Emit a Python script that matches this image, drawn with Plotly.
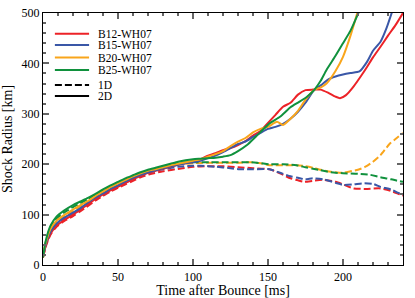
import plotly.graph_objects as go

# ---- data ----
series_names = ["B12-WH07", "B15-WH07", "B20-WH07", "B25-WH07"]
series_colors = ["#ec2227", "#3a57a7", "#f9a51b", "#10913d"]
style_names = ["1D", "2D"]

# 2D runs
t_2d_b12 = [0, 2, 5, 9, 14, 20, 25, 30, 35, 40, 45, 50, 55, 60, 65, 70, 75, 80, 85, 90, 95, 100, 105, 110, 115, 120, 125, 130, 135, 140, 145, 150, 155, 160, 165, 170, 175, 180, 185, 190, 195, 198, 202, 207, 212, 216, 220, 225, 230, 235, 241]
r_2d_b12 = [15, 40, 62, 78, 89, 100, 110, 120, 131, 140, 148, 155, 163, 170, 177, 183, 187, 191, 195, 199, 202, 205, 210, 217, 222, 228, 232, 238, 246, 257, 266, 282, 298, 314, 322, 338, 347, 348, 348, 342, 334, 331, 337, 354, 375, 393, 412, 433, 455, 476, 505]

t_2d_b15 = [0, 2, 5, 9, 14, 20, 25, 30, 35, 40, 45, 50, 55, 60, 65, 70, 75, 80, 85, 90, 95, 100, 105, 110, 115, 120, 125, 130, 135, 140, 145, 150, 155, 160, 165, 170, 175, 181, 186, 190, 195, 200, 205, 211, 216, 220, 225, 229, 233]
r_2d_b15 = [18, 43, 66, 82, 94, 104, 113, 124, 134, 142, 151, 158, 166, 173, 179, 184, 188, 192, 196, 199, 202, 204, 207, 212, 217, 224, 232, 240, 245, 254, 262, 270, 274, 280, 290, 304, 322, 348, 358, 368, 374, 378, 381, 384, 403, 425, 443, 470, 505]

t_2d_b20 = [0, 2, 5, 9, 14, 20, 25, 30, 35, 40, 45, 50, 55, 60, 65, 70, 75, 80, 85, 90, 95, 100, 105, 110, 115, 120, 125, 130, 135, 140, 145, 150, 156, 160, 165, 170, 175, 181, 185, 189, 195, 200, 205, 210]
r_2d_b20 = [20, 46, 72, 88, 99, 110, 119, 127, 137, 146, 155, 162, 169, 176, 182, 187, 190, 194, 198, 201, 204, 207, 210, 215, 220, 226, 236, 245, 252, 263, 270, 274, 284, 278, 290, 306, 328, 348, 352, 360, 385, 413, 455, 505]

t_2d_b25 = [0, 2, 5, 9, 14, 20, 25, 30, 35, 40, 45, 50, 55, 60, 65, 70, 75, 80, 85, 90, 95, 100, 105, 110, 115, 120, 125, 130, 136, 142, 151, 158, 165, 171, 176, 181, 185, 189, 195, 200, 205, 211]
r_2d_b25 = [15, 50, 78, 96, 108, 119, 126, 133, 141, 150, 158, 165, 172, 178, 184, 189, 193, 197, 201, 205, 208, 210, 211, 212, 213, 215, 218, 226, 238, 255, 281, 294, 313, 324, 334, 348, 365, 387, 415, 440, 465, 505]

# 1D runs
t_1d_b12 = [0, 2, 5, 9, 14, 20, 25, 30, 35, 40, 45, 50, 55, 60, 65, 71, 80, 93, 100, 110, 120, 130, 140, 151, 158, 165, 170, 174, 180, 187, 195, 200, 207, 215, 225, 232, 238, 240]
r_1d_b12 = [15, 38, 60, 76, 87, 97, 107, 117, 128, 137, 146, 153, 160, 167, 174, 180, 186, 192, 195, 196, 196, 194, 192, 190, 182, 172, 168, 165, 167, 169, 165, 160, 152, 151, 152, 147, 140, 138]

t_1d_b15 = [0, 2, 5, 9, 14, 20, 25, 30, 35, 40, 45, 50, 55, 60, 65, 75, 90, 100, 105, 115, 125, 131, 140, 151, 158, 165, 170, 175, 180, 187, 195, 200, 207, 213, 220, 225, 232, 237, 240]
r_1d_b15 = [18, 42, 64, 80, 92, 102, 111, 122, 132, 140, 149, 156, 164, 171, 177, 187, 195, 197, 197, 195, 192, 190, 190, 190, 183, 176, 173, 170, 172, 170, 163, 159, 160, 162, 161, 155, 150, 143, 140]

t_1d_b20 = [0, 2, 5, 9, 14, 20, 25, 30, 35, 40, 45, 50, 55, 60, 65, 75, 90, 100, 111, 120, 130, 138, 145, 151, 160, 169, 175, 180, 185, 192, 200, 205, 210, 215, 220, 225, 231, 235, 240]
r_1d_b20 = [20, 45, 70, 86, 97, 108, 117, 126, 136, 145, 153, 160, 167, 174, 180, 189, 199, 202, 203, 203, 203, 204, 202, 198, 198, 198, 196, 193, 189, 185, 183, 186, 189, 195, 205, 218, 240, 250, 262]

t_1d_b25 = [0, 2, 5, 9, 14, 20, 25, 30, 35, 40, 45, 50, 55, 60, 65, 75, 90, 100, 111, 120, 130, 138, 145, 151, 160, 169, 175, 180, 185, 192, 200, 210, 218, 225, 232, 238, 240]
r_1d_b25 = [15, 48, 75, 92, 104, 115, 123, 131, 139, 148, 156, 163, 170, 176, 182, 191, 202, 204, 204, 204, 204, 204, 202, 200, 200, 198, 194, 191, 188, 184, 182, 181, 179, 174, 170, 166, 165]

t_2d = [t_2d_b12, t_2d_b15, t_2d_b20, t_2d_b25]
r_2d = [r_2d_b12, r_2d_b15, r_2d_b20, r_2d_b25]
t_1d = [t_1d_b12, t_1d_b15, t_1d_b20, t_1d_b25]
r_1d = [r_1d_b12, r_1d_b15, r_1d_b20, r_1d_b25]

x_ticks = [0, 50, 100, 150, 200]
y_ticks = [0, 100, 200, 300, 400, 500]

FONT = "Liberation Serif"
DASH = "7px,3px"

fig = go.Figure()

for name, col, t, r in zip(series_names, series_colors, t_1d, r_1d):
    fig.add_trace(go.Scatter(x=t, y=r, mode="lines", showlegend=False, name=name + " 1D",
                             line=dict(color=col, width=2, dash=DASH, shape="spline", smoothing=0.6)))
for name, col, t, r in zip(series_names, series_colors, t_2d, r_2d):
    fig.add_trace(go.Scatter(x=t, y=r, mode="lines", showlegend=False, name=name + " 2D",
                             line=dict(color=col, width=2, shape="spline", smoothing=0.6)))

# ---- hand-placed legend (paper coordinates, compact spacing like the reference) ----
leg_x0, leg_x1, leg_tx = 0.033, 0.128, 0.148
leg_rows = [0.918, 0.873, 0.823, 0.774, 0.714, 0.671]
leg_labels = series_names + style_names
leg_colors = series_colors + ["black", "black"]
leg_dash = ["solid"] * 4 + [DASH, "solid"]
shapes = []
annotations = []
for yy, lab, col, ds in zip(leg_rows, leg_labels, leg_colors, leg_dash):
    shapes.append(dict(type="line", xref="paper", yref="paper", x0=leg_x0, x1=leg_x1, y0=yy, y1=yy,
                       line=dict(color=col, width=2, dash=ds)))
    annotations.append(dict(xref="paper", yref="paper", x=leg_tx, y=yy, xanchor="left", yanchor="middle",
                            text=lab, showarrow=False, font=dict(family=FONT, size=11.5, color="black")))

axis_common = dict(
    showline=True, linecolor="black", linewidth=1.2, mirror="allticks",
    ticks="inside", ticklen=6, tickwidth=1.5, tickcolor="#666666",
    showgrid=False, zeroline=False, automargin=False,
    tickfont=dict(family=FONT, size=12, color="black"),
)

fig.update_xaxes(range=[0, 240], tickvals=x_ticks,
                 minor=dict(ticks="inside", dtick=10, ticklen=3, tickcolor="#666666", showgrid=False),
                 title=dict(text="Time after Bounce [ms]", font=dict(family=FONT, size=14, color="black"), standoff=2),
                 **axis_common)
fig.update_yaxes(range=[0, 500], tickvals=y_ticks,
                 minor=dict(ticks="inside", dtick=20, ticklen=3, tickcolor="#666666", showgrid=False),
                 title=dict(text="Shock Radius [km]", font=dict(family=FONT, size=14, color="black"), standoff=6),
                 **axis_common)

fig.update_layout(
    width=415, height=298,
    margin=dict(l=43, r=12, t=13, b=33),
    paper_bgcolor="white", plot_bgcolor="white",
    showlegend=False,
    shapes=shapes, annotations=annotations,
)

fig.write_html("out.html", config={"displayModeBar": False},
               post_script="document.body.style.margin='0';document.body.style.overflow='hidden';")
